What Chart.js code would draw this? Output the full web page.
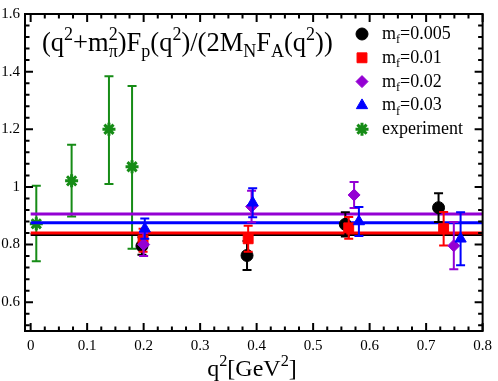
<!DOCTYPE html>
<html>
<head>
<meta charset="utf-8">
<script src="https://cdn.jsdelivr.net/npm/chart.js@4"></script>
<style>
  html, body { margin: 0; padding: 0; background: #fff; }
  #wrap { width: 498px; height: 381px; }
</style>
</head>
<body>
<div id="wrap"><canvas id="chart" width="498" height="381"></canvas></div>
<script>
// ticks
const xTickVals = [0, 0.1, 0.2, 0.3, 0.4, 0.5, 0.6, 0.7, 0.8];
const xTickLabels = ['0', '0.1', '0.2', '0.3', '0.4', '0.5', '0.6', '0.7', '0.8'];
const yTickVals = [0.6, 0.8, 1, 1.2, 1.4, 1.6];
const yTickLabels = ['0.6', '0.8', '1', '1.2', '1.4', '1.6'];

// lattice data: q^2, value, error
const mf005X = [0.197, 0.383, 0.557, 0.722];
const mf005Y = [0.795, 0.762, 0.870, 0.928];
const mf005Err = [0.030, 0.050, 0.042, 0.050];

const mf01X = [0.199, 0.385, 0.563, 0.731];
const mf01Y = [0.815, 0.820, 0.858, 0.855];
const mf01Err = [0.040, 0.045, 0.038, 0.058];

const mf02X = [0.200, 0.391, 0.5725, 0.749];
const mf02Y = [0.800, 0.932, 0.972, 0.796];
const mf02Err = [0.040, 0.055, 0.045, 0.082];

const mf03X = [0.202, 0.393, 0.581, 0.761];
const mf03Y = [0.855, 0.945, 0.880, 0.820];
const mf03Err = [0.035, 0.050, 0.050, 0.092];

// experiment: value with lower / upper bound
const expX = [0.010, 0.0725, 0.1386, 0.1795];
const expY = [0.872, 1.021, 1.200, 1.070];
const expLo = [0.742, 0.897, 1.010, 0.785];
const expHi = [1.004, 1.146, 1.384, 1.350];

// constant fits
const fitX = [0, 0.8];
const fit005 = 0.835;
const fit01 = 0.840;
const fit02 = 0.906;
const fit03 = 0.876;

const legendLabels = [['m', {d: 'f'}, '=0.005'], ['m', {d: 'f'}, '=0.01'], ['m', {d: 'f'}, '=0.02'], ['m', {d: 'f'}, '=0.03'], ['experiment']];

const FONT = '"Liberation Serif", "Times New Roman", serif';
const BLACK = '#000000', RED = '#ff0000', PURPLE = '#9400d3', BLUE = '#0000ff', GREEN = '#168c16';

function pts(xs, ys){ return xs.map((x, i) => ({x: x, y: ys[i]})); }
function lo(ys, es){ return ys.map((y, i) => y - es[i]); }
function hi(ys, es){ return ys.map((y, i) => y + es[i]); }

function series(label, xs, ys, es, color, style, r, order){
    return {
        label: label, data: pts(xs, ys), errLo: lo(ys, es), errHi: hi(ys, es),
        showLine: false, pointStyle: style, pointRadius: r,
        backgroundColor: color, borderColor: color, borderWidth: 1, order: order
    };
}
function fitLine(val, color, order){
    return {
        data: pts(fitX, [val, val]), showLine: true, pointRadius: 0,
        borderColor: color, borderWidth: 3, order: order, fill: false
    };
}

const datasets = [
    {
        label: 'experiment', data: pts(expX, expY), errLo: expLo, errHi: expHi,
        showLine: false, pointStyle: 'star', pointRadius: 6.5,
        borderColor: GREEN, backgroundColor: GREEN, borderWidth: 3, order: 10
    },
    fitLine(fit005, BLACK, 9),
    fitLine(fit01, RED, 8),
    fitLine(fit03, BLUE, 7),
    fitLine(fit02, PURPLE, 6),
    series('mf=0.005', mf005X, mf005Y, mf005Err, BLACK, 'circle', 6, 4),
    series('mf=0.01', mf01X, mf01Y, mf01Err, RED, 'rect', 7, 3),
    series('mf=0.02', mf02X, mf02Y, mf02Err, PURPLE, 'rectRot', 6, 2),
    series('mf=0.03', mf03X, mf03Y, mf03Err, BLUE, 'triangle', 6.5, 1)
];

// rich text with sub/superscripts
function drawRich(ctx, parts, x, y, size, dry){
    const s = size * 0.68;
    let cx = x;
    parts.forEach(p => {
        if (typeof p === 'string'){
            ctx.font = size + 'px ' + FONT;
            if (!dry) ctx.fillText(p, cx, y);
            cx += ctx.measureText(p).width;
        } else {
            ctx.font = s + 'px ' + FONT;
            let w = 0;
            if (p.u){ if (!dry) ctx.fillText(p.u, cx, y - size * 0.42); w = Math.max(w, ctx.measureText(p.u).width); }
            if (p.d){ if (!dry) ctx.fillText(p.d, cx, y + size * 0.24); w = Math.max(w, ctx.measureText(p.d).width); }
            cx += w;
        }
    });
    return cx - x;
}

const errorBars = {
    id: 'errorBars',
    beforeDatasetDraw(chart, args){
        const ds = chart.data.datasets[args.index];
        if (!ds.errLo) return;
        const ys = chart.scales.y;
        const ctx = chart.ctx;
        const meta = chart.getDatasetMeta(args.index);
        ctx.save();
        ctx.strokeStyle = ds.borderColor;
        ctx.lineWidth = 2;
        meta.data.forEach((el, i) => {
            const t = ys.getPixelForValue(ds.errHi[i]);
            const b = ys.getPixelForValue(ds.errLo[i]);
            ctx.beginPath();
            ctx.moveTo(el.x, t); ctx.lineTo(el.x, b);
            ctx.moveTo(el.x - 4.5, t); ctx.lineTo(el.x + 4.5, t);
            ctx.moveTo(el.x - 4.5, b); ctx.lineTo(el.x + 4.5, b);
            ctx.stroke();
        });
        ctx.restore();
    }
};

const frameAndText = {
    id: 'frameAndText',
    afterDraw(chart){
        const ctx = chart.ctx;
        const a = chart.chartArea;
        const xs = chart.scales.x, ys = chart.scales.y;
        ctx.save();
        ctx.strokeStyle = '#000';
        ctx.lineWidth = 2;
        ctx.strokeRect(a.left, a.top, a.right - a.left, a.bottom - a.top);

        // inward ticks on all four sides
        ctx.beginPath();
        const xMinor = [];
        for (let v = 0; v <= 0.8 + 1e-9; v += 0.025) xMinor.push(v);
        const yMinor = [];
        for (let v = 0.52; v <= 1.6 + 1e-9; v += 0.04) yMinor.push(v);
        xMinor.forEach(v => {
            const px = xs.getPixelForValue(v);
            const len = xTickVals.some(t => Math.abs(t - v) < 1e-6) ? 8 : 4.5;
            ctx.moveTo(px, a.bottom); ctx.lineTo(px, a.bottom - len);
            ctx.moveTo(px, a.top); ctx.lineTo(px, a.top + len);
        });
        yMinor.forEach(v => {
            const py = ys.getPixelForValue(v);
            const len = yTickVals.some(t => Math.abs(t - v) < 1e-6) ? 8 : 4.5;
            ctx.moveTo(a.left, py); ctx.lineTo(a.left + len, py);
            ctx.moveTo(a.right, py); ctx.lineTo(a.right - len, py);
        });
        ctx.stroke();

        ctx.fillStyle = '#000';
        ctx.textBaseline = 'alphabetic';
        ctx.textAlign = 'left';

        // title formula
        drawRich(ctx, ['(q', {u: '2'}, '+m', {d: '\u03c0', u: '2'}, ')F', {d: 'p'}, '(q', {u: '2'}, ')/(2M', {d: 'N'}, 'F', {d: 'A'}, '(q', {u: '2'}, '))'], 42, 51, 26.5);

        // x axis title
        const xt = ['q', {u: '2'}, '[GeV', {u: '2'}, ']'];
        const w = drawRich(ctx, xt, 0, 0, 24, true);
        drawRich(ctx, xt, 252 - w / 2, 376, 24);

        // legend
        const styles = [
            [BLACK, 'circle', 6, 1], [RED, 'rect', 7, 1], [PURPLE, 'rectRot', 6, 1],
            [BLUE, 'triangle', 6.5, 1], [GREEN, 'star', 6.5, 3]
        ];
        legendLabels.forEach((lab, i) => {
            const cy = 34 + i * 23.8;
            const st = styles[i];
            ctx.fillStyle = st[0]; ctx.strokeStyle = st[0]; ctx.lineWidth = st[3];
            Chart.helpers.drawPoint(ctx, {pointStyle: st[1], radius: st[2], rotation: 0, borderWidth: st[3]}, 362, cy);
            ctx.fillStyle = '#000';
            drawRich(ctx, lab, 382, cy + 5, 18);
        });
        ctx.restore();
    }
};

function build(){
    new Chart(document.getElementById('chart'), {
        type: 'scatter',
        data: { datasets: datasets },
        options: {
            responsive: false,
            animation: false,
            layout: { padding: { top: 7, right: 10, left: 0, bottom: 0 } },
            plugins: { legend: { display: false }, tooltip: { enabled: false } },
            scales: {
                x: {
                    type: 'linear', min: -0.01, max: 0.8,
                    afterBuildTicks: s => { s.ticks = xTickVals.map(v => ({value: v})); },
                    afterFit: s => { s.height = 50; },
                    grid: { display: false, drawTicks: false },
                    border: { display: false },
                    ticks: {
                        color: '#000', font: { family: FONT, size: 15 }, padding: 6, maxRotation: 0,
                        callback: (v, i) => xTickLabels[i]
                    }
                },
                y: {
                    type: 'linear', min: 0.5, max: 1.6,
                    afterBuildTicks: s => { s.ticks = yTickVals.map(v => ({value: v})); },
                    afterFit: s => { s.width = 25; },
                    grid: { display: false, drawTicks: false },
                    border: { display: false },
                    ticks: {
                        color: '#000', font: { family: FONT, size: 15 }, padding: 5,
                        callback: (v, i) => yTickLabels[i]
                    }
                }
            }
        },
        plugins: [errorBars, frameAndText]
    });
}

if (document.fonts && document.fonts.load) {
    Promise.all([
        document.fonts.load('18px "Liberation Serif"'),
        document.fonts.load('24px "Liberation Serif"')
    ]).then(build, build);
} else {
    build();
}
</script>
</body>
</html>
